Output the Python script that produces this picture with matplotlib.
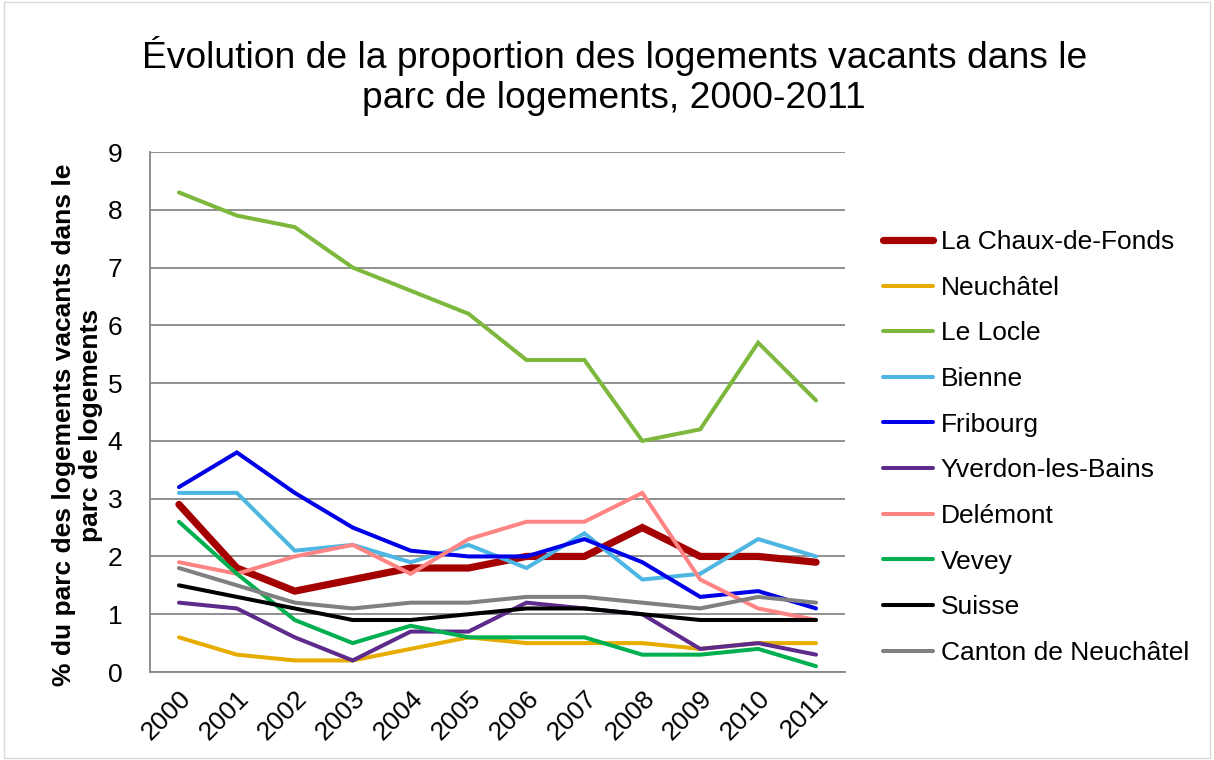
import matplotlib.pyplot as plt

plt.rcParams['font.family'] = ['Liberation Sans', 'DejaVu Sans']

years = ['2000', '2001', '2002', '2003', '2004', '2005',
         '2006', '2007', '2008', '2009', '2010', '2011']

chaux = [2.9, 1.8, 1.4, 1.6, 1.8, 1.8, 2.0, 2.0, 2.5, 2.0, 2.0, 1.9]
neuchatel = [0.6, 0.3, 0.2, 0.2, 0.4, 0.6, 0.5, 0.5, 0.5, 0.4, 0.5, 0.5]
locle = [8.3, 7.9, 7.7, 7.0, 6.6, 6.2, 5.4, 5.4, 4.0, 4.2, 5.7, 4.7]
bienne = [3.1, 3.1, 2.1, 2.2, 1.9, 2.2, 1.8, 2.4, 1.6, 1.7, 2.3, 2.0]
fribourg = [3.2, 3.8, 3.1, 2.5, 2.1, 2.0, 2.0, 2.3, 1.9, 1.3, 1.4, 1.1]
yverdon = [1.2, 1.1, 0.6, 0.2, 0.7, 0.7, 1.2, 1.1, 1.0, 0.4, 0.5, 0.3]
delemont = [1.9, 1.7, 2.0, 2.2, 1.7, 2.3, 2.6, 2.6, 3.1, 1.6, 1.1, 0.9]
vevey = [2.6, 1.7, 0.9, 0.5, 0.8, 0.6, 0.6, 0.6, 0.3, 0.3, 0.4, 0.1]
suisse = [1.5, 1.3, 1.1, 0.9, 0.9, 1.0, 1.1, 1.1, 1.0, 0.9, 0.9, 0.9]
canton = [1.8, 1.5, 1.2, 1.1, 1.2, 1.2, 1.3, 1.3, 1.2, 1.1, 1.3, 1.2]

series = [
    ('La Chaux-de-Fonds', chaux, '#A50000', 5.2),
    ('Neuchâtel', neuchatel, '#E6AC00', 2.9),
    ('Le Locle', locle, '#7DB83D', 2.9),
    ('Bienne', bienne, '#4DB6E2', 2.9),
    ('Fribourg', fribourg, '#0000E8', 2.9),
    ('Yverdon-les-Bains', yverdon, '#5E2A8C', 2.9),
    ('Delémont', delemont, '#FF8585', 2.9),
    ('Vevey', vevey, '#00B050', 2.9),
    ('Suisse', suisse, '#000000', 2.9),
    ('Canton de Neuchâtel', canton, '#808080', 2.9),
]

fig = plt.figure(figsize=(12.14, 7.6), dpi=100)
ax = fig.add_axes([150/1214, 1 - 672/760, 695/1214, 520/760])

x = range(len(years))
for name, vals, col, lw in series:
    ax.plot(x, vals, color=col, lw=lw, label=name,
            solid_capstyle='round', solid_joinstyle='miter')

ax.set_xlim(-0.5, 11.5)
ax.set_ylim(0, 9)
ax.set_yticks(range(10))
ax.set_xticks(list(x))
ax.set_xticklabels(years, rotation=45, ha='right', rotation_mode='anchor',
                   fontsize=19)
ax.tick_params(axis='y', labelsize=19, length=0, pad=20)
ax.tick_params(axis='x', length=0, pad=10)
ax.grid(axis='y', color='#878787', lw=1.3)
ax.set_axisbelow(True)
for s in ['top', 'right']:
    ax.spines[s].set_visible(False)
for s in ['left', 'bottom']:
    ax.spines[s].set_color('#878787')
    ax.spines[s].set_linewidth(1.3)

ax.set_ylabel('% du parc des logements vacants dans le\nparc de logements',
              fontsize=19, fontweight='bold', linespacing=1.12)
ax.yaxis.set_label_coords(-0.068, 0.475)

fig.suptitle('Évolution de la proportion des logements vacants dans le\n'
             'parc de logements, 2000-2011',
             x=0.506, y=0.952, fontsize=26.8, linespacing=1.17)

ax.legend(loc='upper left', bbox_to_anchor=(1.04, 0.87), frameon=False,
          fontsize=19, handlelength=1.9, handletextpad=0.27,
          labelspacing=0.82, borderaxespad=0)

fig.patches.append(plt.Rectangle((0.003, 0.003), 0.994, 0.994,
                                 transform=fig.transFigure, fill=False,
                                 edgecolor='#D9D9D9', lw=1))

fig.savefig('out.png', dpi=100)
